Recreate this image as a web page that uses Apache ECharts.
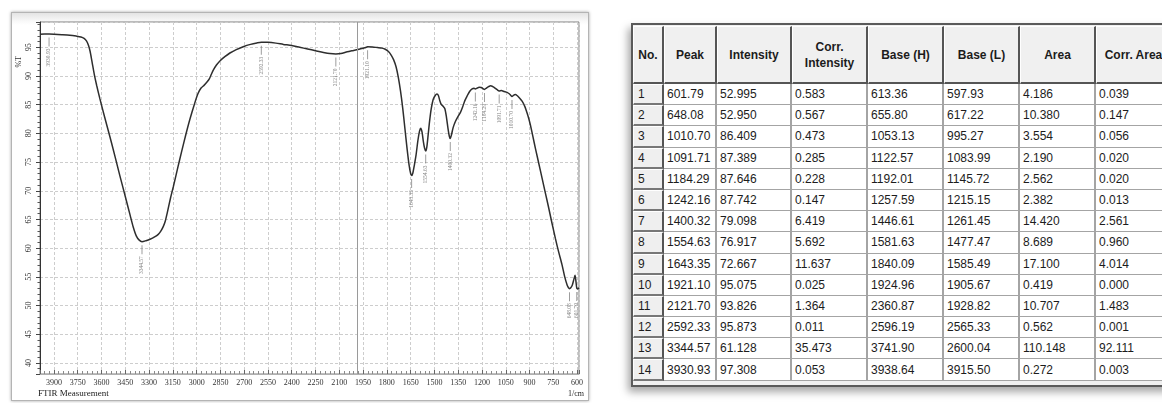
<!DOCTYPE html>
<html>
<head>
<meta charset="utf-8">
<title>FTIR spectrum and peak table</title>
<script src="https://cdn.jsdelivr.net/npm/echarts@6/dist/echarts.min.js"></script>
<style>
  html, body { margin: 0; padding: 0; width: 1162px; height: 403px; overflow: hidden; background: #fff; }
  #panel {
    position: absolute; left: 11px; top: 12px; width: 576px; height: 387px;
    border: 1px solid #b4b4b4; box-shadow: 0 0 3px rgba(0,0,0,0.35);
    background: linear-gradient(#e4e4e4, #fafafa 9px, #fff 12px);
  }
  #chart { position: absolute; left: 0; top: 0; width: 600px; height: 403px; }
  #tblwrap {
    position: absolute; left: 631px; top: 23px; width: 560px; height: 360px;
    border-top: 2px solid #5a5a5a; border-left: 2px solid #5a5a5a; border-bottom: 2px solid #5a5a5a;
    background: #f0f0f0;
    box-shadow: -3px 5px 8px rgba(0,0,0,0.35);
  }
  table.peaks {
    border-collapse: separate; border-spacing: 0; table-layout: fixed;
    font-family: "Liberation Sans", Arial, sans-serif; font-size: 12px; color: #1c1c1c;
    margin-top: 1px; margin-left: 0px;
  }
  table.peaks th {
    box-sizing: border-box; height: 58px; background: #f0f0f0; font-weight: bold; text-align: center;
    border-top: 1px solid #fff; border-right: 2px solid #555; border-bottom: 2px solid #555; border-left: 1px solid #fff;
    padding: 0 2px; line-height: 16px;
  }
  table.peaks td {
    box-sizing: border-box; height: 21.2px; background: #fff; text-align: left; padding: 0 0 0 3px;
    border-right: 2px solid #a4a4a4; border-bottom: 1px solid #a4a4a4; white-space: nowrap; line-height: 18px;
  }
  table.peaks td.no {
    background: #efefef; padding-left: 4px;
    border-top: 1px solid #fff; border-left: 1px solid #fff;
    border-right: 2px solid #555; border-bottom: 2px solid #777;
  }
</style>
</head>
<body>
<div id="panel"></div>
<div id="chart"></div>
<div id="tblwrap"><table class="peaks" id="peaks"></table></div>
<script>
// Transmission spectrum (wavenumber in 1/cm, transmittance in %T)
const specWn = [
  3988, 3960, 3930.93, 3900, 3850, 3800, 3760, 3730, 3710, 3695, 3683, 3672, 3660, 3645, 3630, 3610,
  3580, 3547, 3515, 3484, 3450, 3420, 3400, 3380, 3362, 3344.57, 3320, 3294, 3265, 3242, 3225, 3210,
  3198, 3185, 3165, 3147, 3120, 3094, 3068, 3042, 3015, 2992, 2972, 2952, 2936, 2920, 2907, 2895,
  2875, 2850, 2820, 2790, 2750, 2706, 2660, 2620, 2592.33, 2550, 2500, 2453, 2400, 2350, 2300, 2250,
  2200, 2160, 2121.70, 2090, 2050, 2010, 1970, 1940, 1921.10, 1890, 1860, 1830, 1810, 1790, 1772, 1757,
  1742, 1728, 1714, 1700, 1686, 1672, 1660, 1650, 1643.35, 1636, 1627, 1616, 1604, 1594, 1586, 1578,
  1570, 1562, 1554.63, 1548, 1540, 1531, 1520, 1508, 1495, 1484, 1475, 1466, 1456, 1444, 1434, 1424,
  1414, 1406, 1400.32, 1392, 1382, 1367, 1350, 1335, 1322, 1308, 1294, 1278, 1262, 1250, 1242.16, 1232,
  1218, 1205, 1194, 1184.29, 1172, 1158, 1145, 1132, 1118, 1104, 1091.71, 1078, 1060, 1042, 1028, 1018,
  1010.70, 1002, 990, 979, 965, 947, 930, 916, 905, 895, 880, 863, 842, 821, 800, 779,
  758, 737, 716, 695, 678, 663, 655, 648.08, 640, 630, 620, 613, 608, 601.79, 595, 588
];
const specT = [
  97.25, 97.3, 97.308, 97.28, 97.2, 97.1, 96.95, 96.8, 96.55, 96.1, 95.4, 94.3, 92.5, 90.2, 88.3, 86.0,
  82.8, 79.4, 76.0, 72.6, 69.0, 65.8, 63.7, 62.1, 61.4, 61.128, 61.3, 61.55, 61.95, 62.4, 63.0, 63.8,
  64.7, 66.2, 68.7, 70.7, 73.9, 76.9, 79.8, 82.5, 85.0, 86.9, 87.9, 88.4, 88.9, 89.5, 90.3, 91.0,
  91.9, 92.7, 93.4, 94.0, 94.6, 95.1, 95.5, 95.75, 95.873, 95.86, 95.72, 95.5, 95.3, 95.0, 94.7, 94.4,
  94.1, 93.9, 93.826, 93.9, 94.2, 94.45, 94.7, 94.9, 95.075, 95.05, 94.95, 94.85, 94.65, 94.25, 93.6, 92.8,
  91.6, 89.8, 87.4, 84.4, 80.8, 77.2, 74.5, 73.0, 72.667, 73.1, 74.4, 76.2, 78.8, 80.4, 80.9, 80.2,
  78.6, 77.4, 76.917, 77.6, 79.6, 82.0, 84.3, 85.9, 86.6, 86.85, 86.6, 85.7, 85.0, 84.7, 84.3, 82.8,
  80.8, 79.5, 79.098, 79.8, 81.0, 82.1, 83.0, 83.7, 84.6, 85.7, 86.5, 87.3, 87.75, 87.85, 87.742, 87.85,
  88.05, 88.0, 87.8, 87.646, 87.9, 88.15, 88.3, 88.15, 87.9, 87.6, 87.389, 87.45, 87.3, 87.15, 86.9, 86.6,
  86.409, 86.6, 86.75, 86.6, 86.2, 85.6, 84.7, 83.6, 82.6, 81.5, 79.6, 77.4, 74.8, 72.2, 69.6, 67.0,
  64.3, 61.7, 59.3, 57.1, 55.0, 53.6, 53.15, 52.95, 53.1, 53.6, 54.6, 55.3, 54.4, 52.995, 52.9, 53.1
];

// Peak table columns
const peakWn        = [601.79, 648.08, 1010.70, 1091.71, 1184.29, 1242.16, 1400.32, 1554.63, 1643.35, 1921.10, 2121.70, 2592.33, 3344.57, 3930.93];
const peakInt       = [52.995, 52.950, 86.409, 87.389, 87.646, 87.742, 79.098, 76.917, 72.667, 95.075, 93.826, 95.873, 61.128, 97.308];
const corrIntensity = [0.583, 0.567, 0.473, 0.285, 0.228, 0.147, 6.419, 5.692, 11.637, 0.025, 1.364, 0.011, 35.473, 0.053];
const baseH         = [613.36, 655.80, 1053.13, 1122.57, 1192.01, 1257.59, 1446.61, 1581.63, 1840.09, 1924.96, 2360.87, 2596.19, 3741.90, 3938.64];
const baseL         = [597.93, 617.22, 995.27, 1083.99, 1145.72, 1215.15, 1261.45, 1477.47, 1585.49, 1905.67, 1928.82, 2565.33, 2600.04, 3915.50];
const area          = [4.186, 10.380, 3.554, 2.190, 2.562, 2.382, 14.420, 8.689, 17.100, 0.419, 10.707, 0.562, 110.148, 0.272];
const corrArea      = [0.039, 0.147, 0.056, 0.020, 0.020, 0.013, 2.561, 0.960, 4.014, 0.000, 1.483, 0.001, 92.111, 0.003];

const tableHeaders = ['No.', 'Peak', 'Intensity', 'Corr.<br>Intensity', 'Base (H)', 'Base (L)', 'Area', 'Corr. Area'];
const colWidths = [31, 53, 75, 76, 76, 76, 76, 76];

// Cursor line position and axis range
const cursorWn = 1987;
const xRange = [588, 3988];
const yRange = [38.08, 99.4];

// ---- peak table ----
(function buildTable() {
  const t = document.getElementById('peaks');
  let html = '<colgroup>' + colWidths.map(w => '<col style="width:' + w + 'px">').join('') + '</colgroup>';
  html += '<tr>' + tableHeaders.map(h => '<th>' + h + '</th>').join('') + '</tr>';
  for (let i = 0; i < peakWn.length; i++) {
    html += '<tr>' +
      '<td class="no">' + (i + 1) + '</td>' +
      '<td>' + peakWn[i].toFixed(2) + '</td>' +
      '<td>' + peakInt[i].toFixed(3) + '</td>' +
      '<td>' + corrIntensity[i].toFixed(3) + '</td>' +
      '<td>' + baseH[i].toFixed(2) + '</td>' +
      '<td>' + baseL[i].toFixed(2) + '</td>' +
      '<td>' + area[i].toFixed(3) + '</td>' +
      '<td>' + corrArea[i].toFixed(3) + '</td>' +
      '</tr>';
  }
  t.innerHTML = html;
})();

// ---- spectrum ----
const chart = echarts.init(document.getElementById('chart'), null, { renderer: 'canvas' });
const serif = '"Liberation Serif", "DejaVu Serif", serif';

const option = {
  animation: false,
  grid: { left: 40, top: 22, right: 21, bottom: 29, show: true, borderColor: '#7c7c7c', borderWidth: 1, backgroundColor: '#fff' },
  xAxis: {
    type: 'value', inverse: true, min: xRange[0], max: xRange[1],
    minInterval: 150, maxInterval: 150, splitNumber: 22,
    axisLine: { show: true, onZero: false, lineStyle: { color: '#b0b0b0' } },
    axisTick: { show: true, inside: true, length: 4, lineStyle: { color: '#666' } },
    minorTick: { show: true, splitNumber: 5, length: 3, lineStyle: { color: '#8a8a8a' } },
    splitLine: { show: true, lineStyle: { color: '#cdcdcd', type: [3, 2], width: 1 } },
    axisLabel: {
      fontFamily: serif, fontSize: 8, color: '#333', margin: 5, showMinLabel: false, showMaxLabel: false,
      formatter: v => String(v)
    }
  },
  yAxis: {
    type: 'value', min: yRange[0], max: yRange[1],
    minInterval: 5, maxInterval: 5, splitNumber: 12,
    axisLine: { show: true, lineStyle: { color: '#333' } },
    axisTick: { show: true, inside: false, length: 4, lineStyle: { color: '#444' } },
    minorTick: { show: true, splitNumber: 5, length: 2.5, lineStyle: { color: '#555' } },
    splitLine: { show: true, lineStyle: { color: '#cdcdcd', type: [3, 2], width: 1 } },
    axisLabel: {
      fontFamily: serif, fontSize: 8, color: '#333', rotate: 90, margin: 7, showMinLabel: false, showMaxLabel: false,
      formatter: v => String(v)
    }
  },
  graphic: [
    { type: 'text', left: 15, top: 56, rotation: Math.PI / 2, style: { text: '%T', font: '8px ' + serif, fill: '#333' } },
    { type: 'text', left: 38, top: 389, style: { text: 'FTIR Measurement', font: '9px ' + serif, fill: '#222' } },
    { type: 'text', left: 568, top: 390, style: { text: '1/cm', font: '8px ' + serif, fill: '#222' } }
  ],
  series: [
    {
      name: 'Spectrum', type: 'line', showSymbol: false, smooth: 0.25,
      data: specWn.map((w, i) => [w, specT[i]]),
      lineStyle: { color: '#2e2e2e', width: 1.5 },
      markLine: {
        silent: true, symbol: 'none', label: { show: false },
        lineStyle: { color: '#9a9a9a', type: 'solid', width: 1 },
        data: [{ xAxis: cursorWn }]
      },
      z: 3
    },
    {
      name: 'Peaks', type: 'scatter', symbol: 'rect', symbolSize: [0.8, 9], symbolOffset: [0, 8],
      data: peakWn.map((w, i) => [w, peakInt[i]]),
      itemStyle: { color: '#666' },
      label: {
        show: true, position: 'bottom', distance: 2, rotate: 90, align: 'right', verticalAlign: 'middle',
        fontSize: 5.5, color: '#666', fontFamily: serif,
        formatter: p => p.value[0].toFixed(2)
      },
      z: 4
    }
  ]
};
chart.setOption(option);
</script>
</body>
</html>
